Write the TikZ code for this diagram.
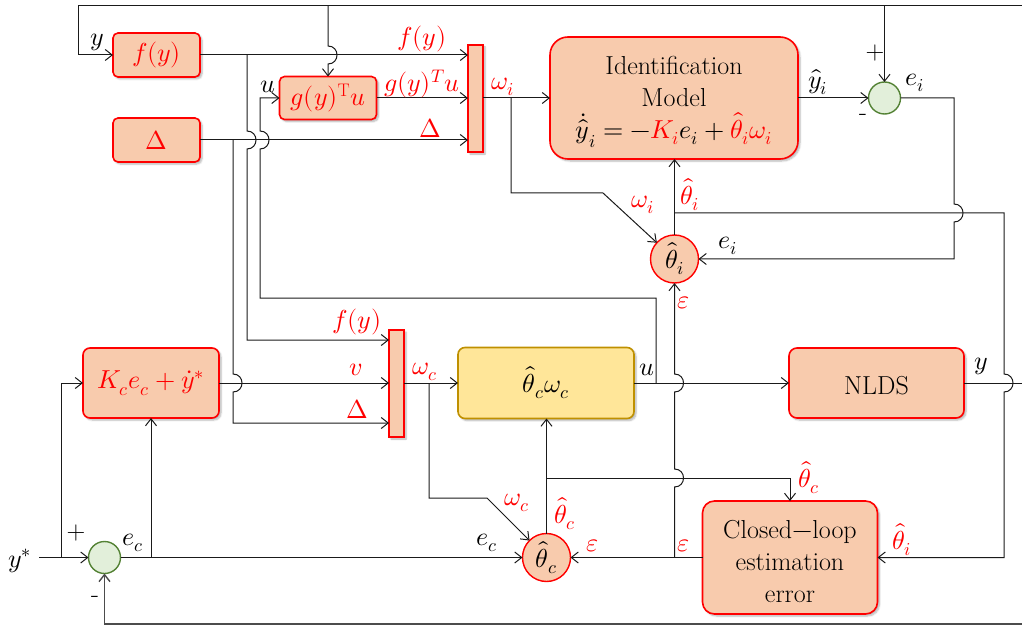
\documentclass[tikz,border=0pt]{standalone}
\usepackage{fontspec}
\usepackage{unicode-math}
\usetikzlibrary{arrows.meta,shadows.blur}
\definecolor{peach}{HTML}{F8CBAD}
\definecolor{sumfill}{HTML}{E2EFDA}
\definecolor{sumdraw}{HTML}{548235}
\definecolor{ctrlfill}{HTML}{FFE699}
\definecolor{ctrldraw}{HTML}{BF9000}
\definecolor{wirecol}{HTML}{1A1A1A}
\begin{document}
\begin{tikzpicture}[x=1pt,y=-1pt,
  every node/.style={font=\fontsize{26}{32}\selectfont, inner sep=0pt, outer sep=0pt},
  softshadow/.style={blur shadow={shadow xshift=2pt, shadow yshift=-2pt, shadow blur steps=6, shadow opacity=30}},
  blk/.style={draw=red, fill=peach, line width=1.6pt, rounded corners=5pt, softshadow, text=red},
  muxbar/.style={draw=red, fill=peach, line width=1.6pt, minimum width=15pt, minimum height=107pt, softshadow},
  estim/.style={circle, draw=red, fill=peach, line width=1.4pt, minimum size=48pt},
  summer/.style={circle, draw=sumdraw, fill=sumfill, line width=1.4pt, minimum size=32pt},
  wire/.style={draw=wirecol, line width=1pt},
  arr/.style={wire, -{Straight Barb[length=7pt,width=11pt]}},
  lbl/.style={text=black},
  rlbl/.style={text=red}
]
\useasboundingbox (0,0) rectangle (1022,628);

% ---------- blocks ----------
\node[blk, minimum width=87pt, minimum height=44pt] (fy) at (156.5,55) {$f(y)$};
\node[blk, minimum width=87pt, minimum height=44pt] (delta) at (156.5,140) {$\Delta$};
\node[blk, minimum width=97pt, minimum height=43pt] (g) at (328,98) {$g(y)^{\mathrm{T}}u$};
\node[muxbar] (m1) at (475.5,98.5) {};
\node[blk, rounded corners=18pt, minimum width=248pt, minimum height=122pt] (idm) at (674,98) {};
\node[align=center] (idmtext) at (674,102) 
  {Identification\\Model\\$\dot{\hat{y}}_i=-{\color{red}K_i}e_i+{\color{red}\hat{\theta}_i\omega_i}$};
\node[summer] (sumi) at (884.5,98) {};
\node[estim] (thi) at (674.5,259) {$\hat{\theta}_i$};

\node[blk, rounded corners=7pt, minimum width=136pt, minimum height=70pt] (Kc) at (151,383) {$K_c e_c+\dot{y}^{*}$};
\node[muxbar] (m2) at (396.5,383.5) {};
\node[draw=ctrldraw, fill=ctrlfill, line width=1.6pt, rounded corners=7pt, softshadow, minimum width=176pt, minimum height=71pt] (ctrl) at (546,383) {$\hat{\theta}_c\omega_c$};
\node[blk, text=black, rounded corners=8pt, minimum width=175pt, minimum height=70pt] (nlds) at (876.5,383) {};
\node (nldstext) at (876.5,386) {NLDS};
\node[blk, rounded corners=12pt, minimum width=175pt, minimum height=113pt] (cl) at (790,557.5) {};
\node[align=center] (cltext) at (790,562) {Closed$-$loop\\estimation\\error};
\node[estim] (thc) at (546.5,557.5) {$\hat{\theta}_c$};
\node[summer] (sumc) at (104.5,557.5) {};

% ---------- upper part ----------
\coordinate (yR) at (1022,6);
\coordinate (yL) at (78,6);
\draw[arr] (yR) -- (yL) |- (fy.west);
\coordinate (gTap) at (328,6);
\draw[arr] (gTap) -- (328,46) .. controls (340,46) and (340,64) .. (328,64) -- (g.north);
\coordinate (eTap) at (884.5,6);
\draw[arr] (eTap) -- (sumi.north);

\draw[arr] (fy.east) -- (m1.west |- fy.east);
\coordinate (fTap) at (247,55);
\draw[arr] (fTap) -- (247,131) .. controls (259,131) and (259,149) .. (247,149) -- (247,340) -- (m2.west |- 0,340);

\draw[arr] (delta.east) -- (m1.west |- delta.east);
\coordinate (dTap) at (233,140);
\draw[arr] (dTap) -- (233,374) .. controls (245,374) and (245,392) .. (233,392) -- (233,423) -- (m2.west |- 0,423);

\draw[arr] (g.east) -- (m1.west |- g.east);

\draw[arr] (m1.east |- idm.west) -- (idm.west);
\coordinate (wiTap) at (511,98);
\draw[arr] (wiTap) -- (511,193) -- (603,193) -- (thi);

\draw[arr] (idm.east) -- (sumi.west);
\draw[arr] (sumi.east) -- (954,98) -- (954,204) .. controls (966,204) and (966,222) .. (954,222) -- (954,259) -- (thi.east);

\draw[arr] (thi.north) -- (thi.north |- idm.south);
\coordinate (thiTap) at (674.5,213);
\draw[arr] (thiTap) -- (1004,213) -- (1004,374) .. controls (1016,374) and (1016,392) .. (1004,392) -- (1004,557.5) -- (cl.east);

% ---------- lower part ----------
\draw[arr] (cl.west) -- (thc.east);
\coordinate (epsTap) at (674.5,557.5);
\draw[arr] (epsTap) -- (674.5,487) .. controls (686.5,487) and (686.5,469) .. (674.5,469)
  -- (674.5,392) .. controls (686.5,392) and (686.5,374) .. (674.5,374) -- (thi.south);

\draw[arr] (thc.north) -- (thc.north |- ctrl.south);
\coordinate (thcTap) at (546.5,478);
\draw[arr] (thcTap) -- (cl.north |- thcTap) -- (cl.north);

\draw[arr] (ctrl.east) -- (nlds.west);
\coordinate (uTap) at (656,383);
\draw[arr] (uTap) -- (656,298) -- (260,298) -- (260,149) .. controls (272,149) and (272,131) .. (260,131) -- (260,98) -- (g.west);

\coordinate (yOut) at (1022,383);
\draw[wire] (nlds.east) -- (yOut);

\coordinate (fbR) at (1022,624);
\draw[arr, line width=1.4pt, draw=black!70] (fbR) -- (sumc.south |- fbR) -- (sumc.south);

\coordinate (ys) at (39,557.5);
\draw[arr] (ys) -- (sumc.west);
\coordinate (ysTap) at (61,557.5);
\draw[arr] (ysTap) -- (61,383) -- (Kc.west);

\draw[arr] (sumc.east) -- (thc.west);
\coordinate (ecTap) at (151,557.5);
\draw[arr] (ecTap) -- (Kc.south);

\draw[arr] (Kc.east) -- (m2.west |- Kc.east);
\draw[arr] (m2.east |- ctrl.west) -- (ctrl.west);
\coordinate (wcTap) at (429,383);
\draw[arr] (wcTap) -- (429,498) -- (487,498) -- (thc);

% ---------- signal labels ----------
\node[lbl] (l1) at (97,42) {$y$};
\node[rlbl] (l2) at (422,39) {$f(y)$};
\node[rlbl] (l3) at (422,84) {$g(y)^{T}u$};
\node[rlbl] (l4) at (430,128) {$\Delta$};
\node[lbl] (l5) at (268,87) {$u$};
\node[rlbl] (l6) at (503,87) {$\omega_i$};
\node[lbl] (l7) at (818,82) {$\hat{y}_i$};
\node[lbl] (l8) at (875,53) {+};
\node[lbl] (l9) at (863,117) {-};
\node[lbl] (l10) at (915,83) {$e_i$};
\node[rlbl] (l11) at (643,205) {$\omega_i$};
\node[rlbl] (l12) at (690,195) {$\hat{\theta}_i$};
\node[lbl] (l13) at (728,246) {$e_i$};
\node[rlbl] (l14) at (684,303) {$\varepsilon$};
\node[rlbl] (l15) at (357,322) {$f(y)$};
\node[rlbl] (l16) at (356,370) {$v$};
\node[rlbl] (l17) at (357,409) {$\Delta$};
\node[rlbl] (l18) at (425,372) {$\omega_c$};
\node[lbl] (l19) at (647,370) {$u$};
\node[lbl] (l20) at (981,366) {$y$};
\node[rlbl] (l21) at (517,503) {$\omega_c$};
\node[rlbl] (l22) at (565,514) {$\hat{\theta}_c$};
\node[lbl] (l23) at (487,543) {$e_c$};
\node[rlbl] (l24) at (593,546) {$\varepsilon$};
\node[rlbl] (l25) at (684,546) {$\varepsilon$};
\node[rlbl] (l26) at (809,478) {$\hat{\theta}_c$};
\node[rlbl] (l27) at (902,540) {$\hat{\theta}_i$};
\node[lbl] (l28) at (20,561) {$y^{*}$};
\node[lbl] (l29) at (76,533) {+};
\node[lbl] (l30) at (95,599) {-};
\node[lbl] (l31) at (133,543) {$e_c$};
\end{tikzpicture}
\end{document}
